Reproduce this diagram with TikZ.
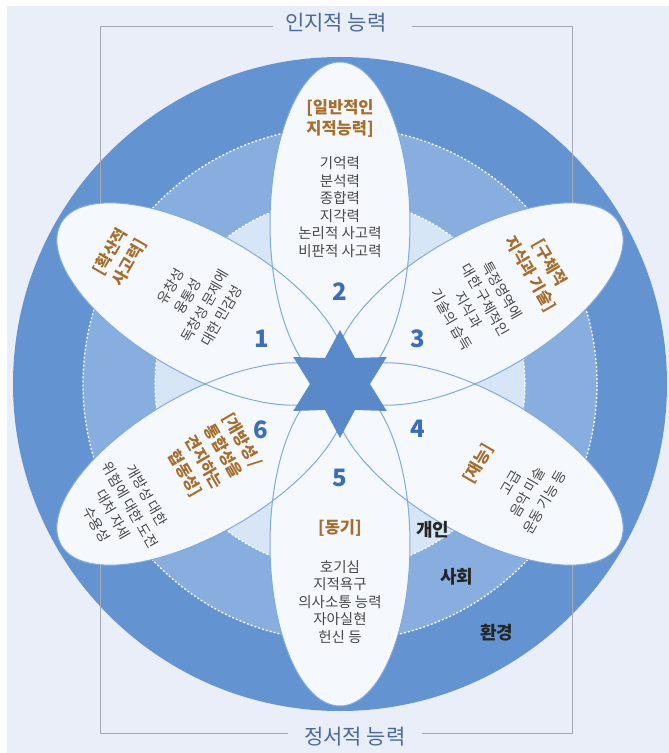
\documentclass[tikz,border=0pt]{standalone}
\usepackage{fontspec}
\setmainfont{Noto Sans CJK KR}
\usepackage{tikz}
\usetikzlibrary{shapes.geometric}
\definecolor{pagebg}{HTML}{E9EEF9}
\definecolor{envblue}{HTML}{6393D0}
\definecolor{socblue}{HTML}{88AEE0}
\definecolor{indblue}{HTML}{D7E6F7}
\definecolor{petalfill}{HTML}{F5F9FE}
\definecolor{petalline}{HTML}{82A9DC}
\definecolor{stardark}{HTML}{5A89CA}
\definecolor{numblue}{HTML}{3D6DB7}
\definecolor{titlebrown}{HTML}{A56E2D}
\definecolor{bodygray}{HTML}{484848}
\definecolor{framegray}{HTML}{A3A9B3}
\definecolor{axislabel}{HTML}{4B6A9B}
\tikzset{
  petaledge/.style={draw=petalline, line width=1pt},
  ringedge/.style={draw=white, line width=1.3pt, dash pattern=on 2pt off 2pt},
  petaltitle/.style={text=titlebrown, font=\fontsize{16.5}{21}\selectfont\bfseries, align=center, inner sep=0pt},
  petalbody/.style={text=bodygray, font=\fontsize{14.5}{17.5}\selectfont, align=center, inner sep=0pt},
  rottitle/.style={petaltitle, font=\fontsize{16}{22}\selectfont\bfseries},
  rotbody/.style={petalbody, font=\fontsize{14}{19.5}\selectfont},
  petalnum/.style={text=numblue, font=\fontsize{24}{24}\selectfont\bfseries, inner sep=0pt},
  zonelabel/.style={text=black!85, font=\fontsize{18}{18}\selectfont\bfseries, inner sep=0pt},
  sidelabel/.style={text=axislabel, font=\fontsize{21}{21}\selectfont, inner sep=0pt},
  frameline/.style={draw=framegray, line width=0.9pt},
  hubstar/.style={star, star points=6, star point ratio=1.8, minimum size=108pt, inner sep=0pt, fill=stardark}
}
\begin{document}
\begin{tikzpicture}[x=1pt, y=1pt]
  \useasboundingbox (-340,-369) rectangle (329,384);
  \fill[pagebg] (-333,378) rectangle (329,-369);

  % rings
  \fill[envblue] (0,0) circle (327);
  \coordinate (tl) at (-240,358);
  \coordinate (tr) at (232,358);
  \coordinate (bl) at (-240,-349);
  \coordinate (br) at (232,-349);
  \draw[frameline] (-67,358) -- (tl) -- (bl) -- (-52,-349);
  \draw[frameline] (72,358) -- (tr) -- (br) -- (82,-349);
  \fill[socblue] (0,0) circle (257);
  \fill[indblue] (0,0) circle (185);
  \draw[ringedge] (0,0) circle (257);
  \draw[ringedge] (0,0) circle (185);

  % petals
  \foreach \ang in {90,30,-30,-90,-150,150}
    \fill[petalfill, rotate=\ang] (160,0) ellipse [x radius=162, y radius=70];
  \foreach \ang in {90,30,-30,-90,-150,150}
    \draw[petaledge, rotate=\ang] (160,0) ellipse [x radius=162, y radius=70];
  \node[hubstar] (hub) at (0,0) {};

  \node[sidelabel] (cog) at (-4,361) {인지적 능력};
  \node[sidelabel] (emo) at (15,-353) {정서적 능력};

  \node[petalnum] (n1) at (150:90) {1};
  \node[petalnum] (n2) at (90:92) {2};
  \node[petalnum] (n3) at (30:90) {3};
  \node[petalnum] (n4) at (-30:90) {4};
  \node[petalnum] (n5) at (-90:94) {5};
  \node[petalnum] (n6) at (-150:92) {6};

  \node[petaltitle] (t2) at (90:266) {[일반적인\\지적능력]};
  \node[petalbody] (b2) at (90:177) {기억력\\분석력\\종합력\\지각력\\논리적 사고력\\비판적 사고력};

  \node[rottitle, rotate=60] (t1) at (150:254) {[확산적\\사고력]};
  \node[rotbody, rotate=60] (b1) at (150:166) {유창성\\융통성\\독창성 문제에\\대한 민감성};

  \node[rottitle, rotate=-60] (t3) at (30:231) {[구체적\\지식과 기술]};
  \node[rotbody, rotate=-60] (b3) at (30:158) {특정영역에\\대한 구체적인\\지식과\\기술의 습득};

  \node[rottitle, rotate=60] (t4) at (-30:160) {[재능]};
  \node[rotbody, rotate=60] (b4) at (-30:217) {고급\\음악 미술\\운동 기능 등};

  \node[petaltitle] (t5) at (-90:144) {[동기]};
  \node[petalbody] (b5) at (-90:218) {호기심\\지적욕구\\의사소통 능력\\자아실현\\헌신 등};

  \node[rottitle, rotate=-60] (t6) at (-150:146) {[개방성 /\\통합성을\\견지하는\\협동성]};
  \node[rotbody, rotate=-60] (b6) at (-150:252) {개방성 대한\\위험에 대한 도전\\대처 자세\\수용성};

  \node[zonelabel] (ind) at (93,-146) {개인};
  \node[zonelabel] (soc) at (117,-193) {사회};
  \node[zonelabel] (env) at (157,-249) {환경};
\end{tikzpicture}
\end{document}
